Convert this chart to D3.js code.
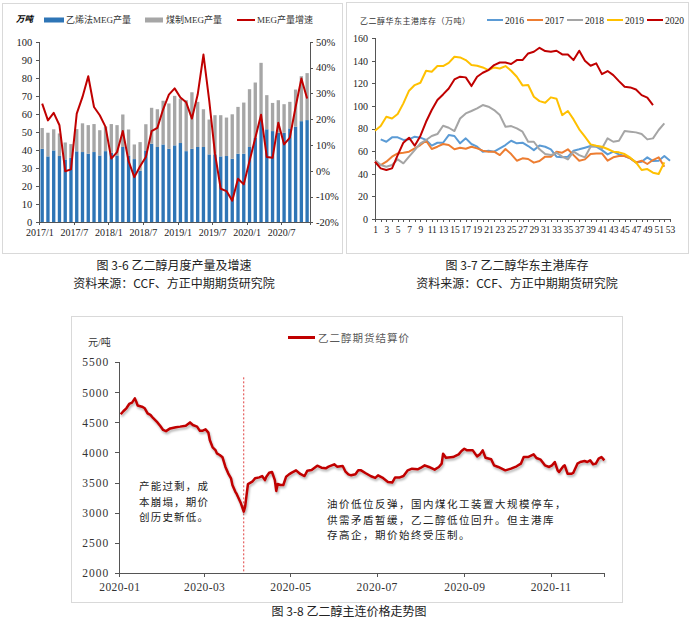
<!DOCTYPE html>
<meta charset="utf-8">
<style>
body { margin: 0; background: #fff; }
svg { display: block; }
.serif text { font-family: "Liberation Serif", "Noto Sans CJK SC", serif !important; }
.axis path, .axis line { fill: none; stroke: #555; shape-rendering: crispEdges; }
.cap { font-family: "Noto Sans CJK SC", sans-serif; font-size: 12px; fill: #222; text-anchor: middle; }
</style>
<svg id="page" width="700" height="622"></svg>
<script src="https://d3js.org/d3.v7.min.js"></script>
<script>

// ---- chart 3-6: monthly MEG output (万吨) and growth (%)
var months = ["2017/1","2017/2","2017/3","2017/4","2017/5","2017/6","2017/7","2017/8","2017/9","2017/10","2017/11","2017/12",
  "2018/1","2018/2","2018/3","2018/4","2018/5","2018/6","2018/7","2018/8","2018/9","2018/10","2018/11","2018/12",
  "2019/1","2019/2","2019/3","2019/4","2019/5","2019/6","2019/7","2019/8","2019/9","2019/10","2019/11","2019/12",
  "2020/1","2020/2","2020/3","2020/4","2020/5","2020/6","2020/7","2020/8","2020/9","2020/10","2020/11"];
var ethyleneMEG = [40.7,36.5,39.8,36.7,34.8,35.7,39.3,38.9,38.0,38.9,37.0,39.4,
  38.5,37.0,41.7,37.0,35.0,28.5,39.8,43.5,41.7,43.1,40.7,42.6,
  43.9,39.4,40.7,41.7,41.7,37.6,37.6,36.5,36.7,35.2,38.0,38.0,
  41.7,46.7,57.0,51.5,50.5,49.6,49.6,52.0,53.0,56.0,56.6];
var coalMEG = [11.5,13.1,11.7,12.5,9.4,7.6,12.3,15.9,15.8,15.5,14.0,13.6,
  15.9,16.8,18.0,14.4,8.1,15.9,14.5,19.9,20.9,24.2,25.1,27.4,
  24.6,28.2,31.3,25.0,20.9,19.3,21.7,22.8,21.3,24.6,25.9,28.3,
  32.0,30.7,31.3,18.9,15.6,18.0,15.8,14.7,20.5,24.9,26.0];
var growth = [26,19.5,22.4,17.6,-0.2,0.5,22.1,28.6,36.6,24.7,21.5,17,
  4.7,7.2,15.4,3.7,-2.5,1.7,5.3,15.3,16.6,23.8,29.5,31.9,
  28.4,26.5,20.2,29.5,45,27.3,6.6,-7,-7.9,-11.6,-3.1,-5.3,
  3.8,12.7,21.7,5.3,5,18.6,10.2,12.8,24.7,35.7,28];
var monthTicks = [0,6,12,18,24,30,36,42];

// ---- chart 3-7: East China port inventory (万吨) by week
var weeks = d3.range(1, 54);
var weekTicks = [1,3,5,7,9,11,13,15,17,19,21,23,25,27,29,31,33,35,37,39,41,43,45,47,49,51,53];
var years = ["2016","2017","2018","2019","2020"];
var yearColors = ["#5B9BD5","#ED7D31","#A5A5A5","#FFC000","#C00000"];
var inv2016 = [null,70.5,68.4,72.3,72.3,70,70.5,72.9,72,70,65,67.5,67.5,74.3,73.5,67,71.4,66.4,64,59.6,
  60.5,59.6,62.5,65.5,69.3,67,67.6,64.6,61,65,64,61.7,55.2,54.6,55.2,60.5,61.7,63.1,64.6,64,
  61,57.2,59.6,57.2,55.8,53.7,50.1,50.7,54.6,51.3,51.6,55.8,51.6];
var inv2017 = [50.7,47.8,50.7,55.2,58.1,58.7,59.6,62.5,65.5,69.3,62,64,66.4,65.5,61.7,63.1,62.2,64,62.5,60.5,
  59.6,59.6,56.6,62,57.5,51.6,53.7,53.1,49.9,51.3,55.2,55.2,59.6,58.7,61.7,56.6,51.6,52.8,57.5,58.1,
  58.1,51.6,54.6,55.8,55.8,53.7,50.1,51.6,48.7,52.2,54.6,46.3];
var inv2018 = [52.2,47.8,46.3,47.8,52.8,49.3,55.2,61,67,69.9,73.5,75.2,82.6,80.8,77.9,89,93.5,95.6,97.9,100.9,
  99.4,96.5,92,81.7,82.3,80.2,77.3,68.4,68.4,61.7,57.5,56.6,58.7,55.2,52.8,59.6,56.6,54.6,64,64.6,
  62.5,71.4,68.4,69.3,77.9,77.3,76.7,75.2,70.5,71.4,78.8,84.7];
var inv2019 = [78.2,82.3,90.6,89,92.9,102.4,113.6,118.6,120.6,131.3,130.4,135.4,135.4,138.3,143.7,143.1,140.7,136.3,135.7,134.2,
  131.9,134.2,133.3,135.4,131.3,126,118.3,118.6,108.3,104.4,103,107.7,106.5,92,95.6,88.2,79.4,72.9,66.1,64.9,
  64,62,59.6,59,57.5,54.3,50.1,43.4,44.2,41,39.8,50.1];
var inv2020 = [50.7,44.8,43.4,44.8,56.6,67.6,72,64.9,73.5,86.1,96.5,105.3,110.3,115.6,123.6,126,125.4,117.7,126,129.5,
  131.9,136.3,138.6,138.6,137.2,140.7,140.7,146.6,148.1,151.6,148.7,148.1,149,145.7,145.7,140.7,149,140.1,135.7,137.8,
  128.3,131,127.4,122.1,117.1,116.5,114.7,109.7,107.4,100.9];

// ---- chart 3-8: MEG futures settlement price (元/吨)
var priceDates = ["2020-01-02","2020-01-04","2020-01-06","2020-01-08","2020-01-10","2020-01-12","2020-01-13","2020-01-14","2020-01-17","2020-01-19",
  "2020-01-21","2020-01-23","2020-01-25","2020-01-28","2020-01-30","2020-02-01","2020-02-03","2020-02-06","2020-02-10","2020-02-13",
  "2020-02-17","2020-02-20","2020-02-22","2020-02-25","2020-02-27","2020-02-29","2020-03-02","2020-03-04","2020-03-05","2020-03-07",
  "2020-03-09","2020-03-10","2020-03-12","2020-03-14","2020-03-16","2020-03-18","2020-03-20","2020-03-21","2020-03-23","2020-03-24",
  "2020-03-27","2020-03-29","2020-03-30","2020-03-31","2020-04-01","2020-04-04","2020-04-06","2020-04-09","2020-04-11","2020-04-13",
  "2020-04-14","2020-04-16","2020-04-18","2020-04-20","2020-04-21","2020-04-22","2020-04-24","2020-04-26","2020-04-28","2020-04-30",
  "2020-05-02","2020-05-05","2020-05-08","2020-05-11","2020-05-13","2020-05-16","2020-05-20","2020-05-23","2020-05-26","2020-05-28",
  "2020-06-01","2020-06-03","2020-06-07","2020-06-09","2020-06-11","2020-06-13","2020-06-16","2020-06-18","2020-06-20","2020-06-23",
  "2020-06-27","2020-06-30","2020-07-02","2020-07-05","2020-07-09","2020-07-12","2020-07-14","2020-07-17","2020-07-20","2020-07-23",
  "2020-07-26","2020-07-30","2020-08-01","2020-08-04","2020-08-07","2020-08-11","2020-08-14","2020-08-16","2020-08-17","2020-08-19",
  "2020-08-24","2020-08-28","2020-08-30","2020-09-01","2020-09-03","2020-09-07","2020-09-10","2020-09-12","2020-09-14","2020-09-16",
  "2020-09-20","2020-09-22","2020-09-25","2020-09-30","2020-10-04","2020-10-08","2020-10-11","2020-10-13","2020-10-16","2020-10-20",
  "2020-10-22","2020-10-25","2020-10-28","2020-10-31","2020-11-02","2020-11-04","2020-11-06","2020-11-07","2020-11-10","2020-11-11",
  "2020-11-13","2020-11-16","2020-11-17","2020-11-20","2020-11-22","2020-11-25","2020-11-27","2020-11-29","2020-12-01","2020-12-03",
  "2020-12-05","2020-12-07","2020-12-08","2020-12-09"];
var priceValues = [4635,4690,4735,4807,4830,4900,4845,4780,4762,4735,
  4650,4625,4570,4500,4440,4375,4355,4400,4420,4430,
  4446,4500,4457,4430,4360,4363,4385,4330,4208,4085,
  4040,3985,3958,3920,3764,3653,3570,3460,3350,3310,
  3154,3015,3100,3292,3475,3514,3570,3586,3608,3540,
  3597,3664,3675,3540,3360,3475,3459,3459,3597,3636,
  3664,3703,3642,3608,3697,3708,3780,3747,3736,3764,
  3803,3764,3775,3680,3636,3620,3637,3703,3703,3659,
  3604,3576,3620,3582,3510,3499,3582,3582,3609,3703,
  3731,3720,3742,3786,3759,3714,3759,3814,3980,3913,
  3924,3968,4024,4062,4035,4035,3935,3968,4035,3913,
  3886,3786,3759,3703,3731,3770,3814,3924,3924,3968,
  3908,3880,3786,3759,3786,3841,3703,3675,3770,3786,
  3648,3648,3659,3814,3841,3858,3841,3869,3803,3814,
  3897,3924,3897,3869];
var priceTicks = [2000,2500,3000,3500,4000,4500,5000,5500];
var markDate = "2020-03-29", markTop = 5250;
var noteLeft = ["产能过剩，成", "本崩塌，期价", "创历史新低。"];
var noteRight = ["油价低位反弹，国内煤化工装置大规模停车，", "供需矛盾暂缓，乙二醇低位回升。但主港库", "存高企，期价始终受压制。"];

var svg = d3.select("#page");
svg.append("rect").attr("width", 700).attr("height", 622).attr("fill", "#fff");

// panel frames
svg.append("rect").attr("x", 2.5).attr("y", 3.5).attr("width", 340).attr("height", 250)
  .attr("fill", "none").attr("stroke", "#d9d9d9");
svg.append("rect").attr("x", 346.5).attr("y", 2.5).attr("width", 342).attr("height", 251)
  .attr("fill", "none").attr("stroke", "#d9d9d9");
svg.append("rect").attr("x", 71.5).attr("y", 316.5).attr("width", 551).attr("height", 286)
  .attr("fill", "none").attr("stroke", "#d9d9d9");

// ================= chart 1 =================
var c1 = svg.append("g").attr("class", "serif");
var xb = d3.scaleBand().domain(months).range([39.3, 310]).paddingInner(0.42).paddingOuter(0.21);
var xi = d3.scaleLinear().domain([0, months.length]).range([39.3, 310]);
var yL = d3.scaleLinear().domain([0, 100]).range([222.3, 41.7]);
var yR = d3.scaleLinear().domain([-20, 50]).range([222.3, 41.7]);

c1.append("g").selectAll("rect.blue").data(months).enter().append("rect")
  .attr("x", function(d){return xb(d);})
  .attr("y", function(d,i){return yL(ethyleneMEG[i]);})
  .attr("width", xb.bandwidth())
  .attr("height", function(d,i){return yL(0) - yL(ethyleneMEG[i]);})
  .attr("fill", "#2E75B6");
c1.append("g").selectAll("rect.gray").data(months).enter().append("rect")
  .attr("x", function(d){return xb(d);})
  .attr("y", function(d,i){return yL(ethyleneMEG[i] + coalMEG[i]);})
  .attr("width", xb.bandwidth())
  .attr("height", function(d,i){return yL(ethyleneMEG[i]) - yL(ethyleneMEG[i] + coalMEG[i]);})
  .attr("fill", "#A6A6A6");

c1.append("path").datum(growth)
  .attr("fill", "none").attr("stroke", "#C00000").attr("stroke-width", 2).attr("stroke-linejoin", "round")
  .attr("d", d3.line()
    .x(function(d,i){return xb(months[i]) + xb.bandwidth()/2;})
    .y(function(d){return yR(d);}));

c1.append("g").attr("class", "axis")
  .attr("transform", "translate(39.3,0)")
  .call(d3.axisLeft(yL).tickValues(d3.range(0, 101, 10)).tickSize(3).tickPadding(4))
  .selectAll("text").style("font-size", "10.5px").attr("fill", "#222");
c1.append("g").attr("class", "axis")
  .attr("transform", "translate(310,0)")
  .call(d3.axisRight(yR).tickValues(d3.range(-20, 51, 10)).tickSize(3).tickPadding(3)
    .tickFormat(function(d){return d + "%";}))
  .selectAll("text").style("font-size", "10.5px").attr("fill", "#222");
c1.append("g").attr("class", "axis")
  .attr("transform", "translate(0,222.3)")
  .call(d3.axisBottom(xi).tickValues(monthTicks).tickSize(3).tickPadding(4)
    .tickFormat(function(d){return months[d];}))
  .selectAll("text").style("font-size", "10px").attr("fill", "#222");

c1.append("text").attr("x", 16).attr("y", 22).text("万吨")
  .style("font-size", "8.5px").style("font-weight", "bold").style("font-style", "italic");
c1.append("rect").attr("x", 44).attr("y", 17.5).attr("width", 20).attr("height", 5).attr("fill", "#2E75B6");
c1.append("text").attr("x", 66).attr("y", 23).text("乙烯法MEG产量").style("font-size", "9px").attr("fill", "#333");
c1.append("rect").attr("x", 145).attr("y", 17.5).attr("width", 18).attr("height", 5).attr("fill", "#A6A6A6");
c1.append("text").attr("x", 166).attr("y", 23).text("煤制MEG产量").style("font-size", "9px").attr("fill", "#333");
c1.append("line").attr("x1", 237).attr("x2", 255).attr("y1", 20).attr("y2", 20)
  .attr("stroke", "#C00000").attr("stroke-width", 2);
c1.append("text").attr("x", 257).attr("y", 23).text("MEG产量增速").style("font-size", "9px").attr("fill", "#333");

// ================= chart 2 =================
var c2 = svg.append("g").attr("class", "serif");
var xw = d3.scaleLinear().domain([1, 53]).range([375, 670]);
var yw = d3.scaleLinear().domain([0, 160]).range([219, 38.3]);
var invSeries = [inv2016, inv2017, inv2018, inv2019, inv2020];

c2.append("g").attr("class", "axis")
  .attr("transform", "translate(375,0)")
  .call(d3.axisLeft(yw).tickValues(d3.range(0, 161, 20)).tickSize(3).tickPadding(4))
  .selectAll("text").style("font-size", "10px").attr("fill", "#222");
var xw2 = c2.append("g").attr("class", "axis")
  .attr("transform", "translate(0,219)")
  .call(d3.axisBottom(xw).tickValues(weeks).tickSize(3).tickPadding(4)
    .tickFormat(function(d){return weekTicks.indexOf(d) >= 0 ? d : "";}));
xw2.selectAll("text").style("font-size", "9.5px").attr("fill", "#222");

var wline = d3.line()
  .defined(function(d){return d != null;})
  .x(function(d,i){return xw(weeks[i]);})
  .y(function(d){return yw(d);});
c2.append("g").selectAll("path").data(invSeries).enter().append("path")
  .attr("fill", "none")
  .attr("stroke", function(d,i){return yearColors[i];})
  .attr("stroke-width", 2)
  .attr("stroke-linejoin", "round")
  .attr("d", wline);

c2.append("text").attr("x", 360).attr("y", 24).text("乙二醇华东主港库存（万吨）")
  .style("font-size", "8px").style("letter-spacing", "0.5px").attr("fill", "#333");
var leg2 = c2.append("g").selectAll("g").data(years).enter().append("g")
  .attr("transform", function(d,i){return "translate(" + (487 + i*40) + ",20)";});
leg2.append("line").attr("x1", 0).attr("x2", 16)
  .attr("stroke", function(d,i){return yearColors[i];}).attr("stroke-width", 2);
leg2.append("text").attr("x", 18).attr("y", 3.5).text(function(d){return d;})
  .style("font-size", "9.5px").attr("fill", "#222");

// ================= chart 3 =================
var c3 = svg.append("g").attr("class", "serif");
var parse = d3.timeParse("%Y-%m-%d");
var xt = d3.scaleTime().domain([parse("2020-01-01"), parse("2020-12-09")]).range([119.3, 604.3]);
var yp = d3.scaleLinear().domain([2000, 5500]).range([572.7, 362.3]);

var defs = svg.append("defs");
var f = defs.append("filter").attr("id", "sh").attr("x", "-5%").attr("y", "-5%").attr("width", "110%").attr("height", "120%");
f.append("feDropShadow").attr("dx", 1).attr("dy", 2).attr("stdDeviation", 1.2)
  .attr("flood-color", "#000").attr("flood-opacity", 0.3);

c3.append("g").attr("class", "axis")
  .attr("transform", "translate(119.3,0)")
  .call(d3.axisLeft(yp).tickValues(priceTicks).tickSize(4).tickPadding(6).tickFormat(d3.format("d")))
  .selectAll("text").style("font-size", "11.5px").style("letter-spacing", "1px").attr("fill", "#333");
c3.append("g").attr("class", "axis")
  .attr("transform", "translate(0,572.7)")
  .call(d3.axisBottom(xt).ticks(d3.timeMonth.every(2)).tickSize(4).tickPadding(6)
    .tickFormat(d3.timeFormat("%Y-%m")))
  .selectAll("text").style("font-size", "11.5px").style("letter-spacing", "0.4px").attr("fill", "#333");

c3.append("line")
  .attr("x1", xt(parse(markDate))).attr("x2", xt(parse(markDate)))
  .attr("y1", yp(markTop)).attr("y2", yp(2000))
  .attr("stroke", "#E04040").attr("stroke-width", 1).attr("stroke-dasharray", "2,2");

c3.append("path").datum(priceValues)
  .attr("fill", "none").attr("stroke", "#C00000").attr("stroke-width", 2.5)
  .attr("stroke-linejoin", "round").attr("filter", "url(#sh)")
  .attr("d", d3.line()
    .x(function(d,i){return xt(parse(priceDates[i]));})
    .y(function(d){return yp(d);}));

c3.append("line").attr("x1", 288).attr("x2", 315).attr("y1", 337.5).attr("y2", 337.5)
  .attr("stroke", "#C00000").attr("stroke-width", 3);
c3.append("text").attr("x", 318).attr("y", 341.5).text("乙二醇期货结算价")
  .style("font-size", "10.5px").style("letter-spacing", "1px").attr("fill", "#595959");
c3.append("text").attr("x", 88).attr("y", 346).text("元/吨")
  .style("font-size", "10px").attr("fill", "#333");

c3.append("g").selectAll("text").data(noteLeft).enter().append("text")
  .attr("x", 139).attr("y", function(d,i){return 490 + i*15.5;})
  .text(function(d){return d;})
  .style("font-size", "10.5px").style("letter-spacing", "1.2px").attr("fill", "#222");
c3.append("g").selectAll("text").data(noteRight).enter().append("text")
  .attr("x", 327).attr("y", function(d,i){return 508 + i*15.5;})
  .text(function(d){return d;})
  .style("font-size", "10.5px").style("letter-spacing", "1.5px").attr("fill", "#222");

// ================= captions =================
svg.append("text").attr("class", "cap").attr("x", 174).attr("y", 270).text("图 3-6  乙二醇月度产量及增速");
svg.append("text").attr("class", "cap").attr("x", 174).attr("y", 288).text("资料来源：CCF、方正中期期货研究院");
svg.append("text").attr("class", "cap").attr("x", 517).attr("y", 270).text("图 3-7  乙二醇华东主港库存");
svg.append("text").attr("class", "cap").attr("x", 517).attr("y", 288).text("资料来源：CCF、方正中期期货研究院");
svg.append("text").attr("class", "cap").attr("x", 349).attr("y", 616).text("图 3-8  乙二醇主连价格走势图");
</script>
